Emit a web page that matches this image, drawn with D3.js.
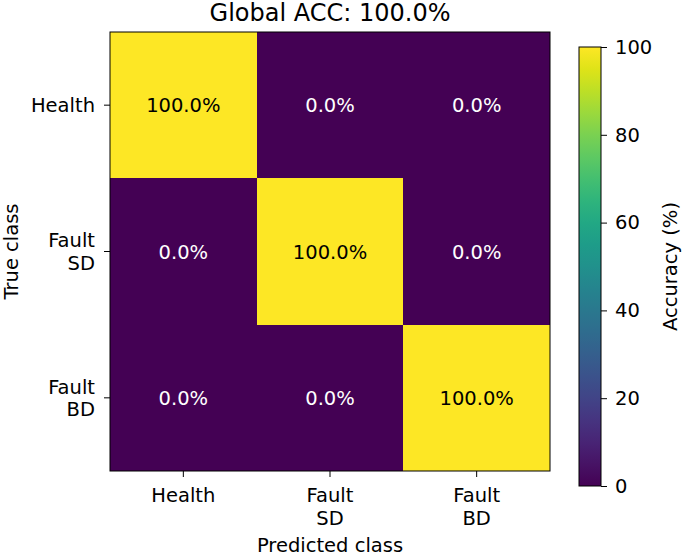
<!DOCTYPE html>
<html>
<head>
<meta charset="utf-8">
<script src="https://cdn.jsdelivr.net/npm/d3@7"></script>
<style>
  body { margin: 0; background: #fff; }
  text { font-family: "DejaVu Sans", sans-serif; fill: #000; }
</style>
</head>
<body>
<div id="viz-container"></div>
<script>
// Chart data
let classLabels = [['Health'], ['Fault', 'SD'], ['Fault', 'BD']];
let trueClasses = ['Health', 'Fault SD', 'Fault BD'];
let predClasses = ['Health', 'Fault SD', 'Fault BD'];
let accuracy = [
    [100, 0, 0],
    [0, 100, 0],
    [0, 0, 100]
];
let cbarTicks = [0, 20, 40, 60, 80, 100];
let globalAcc = 100.0;

let width = 685, height = 555;
let fontSize = 19.5;

let svg = d3.select('#viz-container').append('svg')
    .attr('width', width)
    .attr('height', height);

// Heatmap scales
let x = d3.scaleBand().domain(predClasses).range([110, 550]);
let y = d3.scaleBand().domain(trueClasses).range([32, 471]);
let color = d3.scaleSequential(d3.interpolateViridis).domain([0, 100]);

let cells = [];
accuracy.forEach((row, i) => {
    row.forEach((v, j) => {
        cells.push({row: trueClasses[i], col: predClasses[j], value: v});
    });
});

let g = svg.append('g');

g.selectAll('rect.cell')
    .data(cells)
    .enter()
    .append('rect')
    .attr('class', 'cell')
    .attr('x', d => x(d.col))
    .attr('y', d => y(d.row))
    .attr('width', x.bandwidth())
    .attr('height', y.bandwidth())
    .attr('shape-rendering', 'crispEdges')
    .attr('fill', d => color(d.value));

g.selectAll('text.cell-label')
    .data(cells)
    .enter()
    .append('text')
    .attr('class', 'cell-label')
    .attr('x', d => x(d.col) + x.bandwidth() / 2)
    .attr('y', d => y(d.row) + y.bandwidth() / 2)
    .attr('text-anchor', 'middle')
    .attr('dy', '0.36em')
    .style('font-size', fontSize + 'px')
    .style('fill', d => d.value > 50 ? '#000' : '#fff')
    .text(d => d.value.toFixed(1) + '%');

// frame
g.append('rect')
    .attr('x', 110).attr('y', 32)
    .attr('width', 440).attr('height', 439)
    .attr('fill', 'none')
    .attr('stroke', '#000')
    .attr('stroke-width', 1);

// x axis
let xAxis = d3.axisBottom(x).tickSize(6).tickFormat('');
let xg = svg.append('g').attr('transform', 'translate(0,471)').call(xAxis);
xg.select('.domain').remove();
xg.selectAll('.tick line').attr('stroke', '#000');
xg.selectAll('.tick').each(function (d, i) {
    let t = d3.select(this).append('text')
        .attr('text-anchor', 'middle')
        .style('font-size', fontSize + 'px');
    classLabels[i].forEach((line, k) => {
        t.append('tspan').attr('x', 0).attr('y', 31 + k * 22.5).text(line);
    });
});

// y axis
let yAxis = d3.axisLeft(y).tickSize(6).tickFormat('');
let yg = svg.append('g').attr('transform', 'translate(110,0)').call(yAxis);
yg.select('.domain').remove();
yg.selectAll('.tick line').attr('stroke', '#000');
yg.selectAll('.tick').each(function (d, i) {
    let lines = classLabels[i];
    let t = d3.select(this).append('text')
        .attr('text-anchor', 'end')
        .style('font-size', fontSize + 'px');
    let start = 7 - (lines.length - 1) * 22.5 / 2;
    lines.forEach((line, k) => {
        t.append('tspan').attr('x', -15).attr('y', start + k * 22.5).text(line);
    });
});

// title and axis labels
svg.append('text')
    .attr('x', 330).attr('y', 21)
    .attr('text-anchor', 'middle')
    .style('font-size', '24px')
    .text('Global ACC: ' + globalAcc.toFixed(1) + '%');

svg.append('text')
    .attr('x', 330).attr('y', 551.5)
    .attr('text-anchor', 'middle')
    .style('font-size', fontSize + 'px')
    .text('Predicted class');

svg.append('text')
    .attr('transform', 'translate(18,251.5) rotate(-90)')
    .attr('text-anchor', 'middle')
    .style('font-size', fontSize + 'px')
    .text('True class');

// Colorbar
let cbX = 579, cbW = 22, cbTop = 47, cbBottom = 486;
let cy = d3.scaleLinear().domain([0, 100]).range([cbBottom, cbTop]);

let defs = svg.append('defs');
let grad = defs.append('linearGradient')
    .attr('id', 'cbar-grad')
    .attr('x1', 0).attr('y1', 1).attr('x2', 0).attr('y2', 0);
d3.range(0, 1.0001, 0.05).forEach(t => {
    grad.append('stop')
        .attr('offset', t)
        .attr('stop-color', d3.interpolateViridis(t));
});

svg.append('rect')
    .attr('x', cbX).attr('y', cbTop)
    .attr('width', cbW).attr('height', cbBottom - cbTop)
    .attr('fill', 'url(#cbar-grad)')
    .attr('stroke', '#000')
    .attr('stroke-width', 1);

let cAxis = d3.axisRight(cy).tickValues(cbarTicks).tickSize(6).tickPadding(8);
let cg = svg.append('g').attr('transform', 'translate(' + (cbX + cbW) + ',0)').call(cAxis);
cg.select('.domain').remove();
cg.selectAll('.tick line').attr('stroke', '#000');
cg.selectAll('.tick text')
    .style('font-size', fontSize + 'px')
    .attr('fill', '#000');
cg.attr('font-size', null).attr('font-family', null);

svg.append('text')
    .attr('transform', 'translate(677,266.5) rotate(-90)')
    .attr('text-anchor', 'middle')
    .style('font-size', fontSize + 'px')
    .text('Accuracy (%)');
</script>
</body>
</html>
